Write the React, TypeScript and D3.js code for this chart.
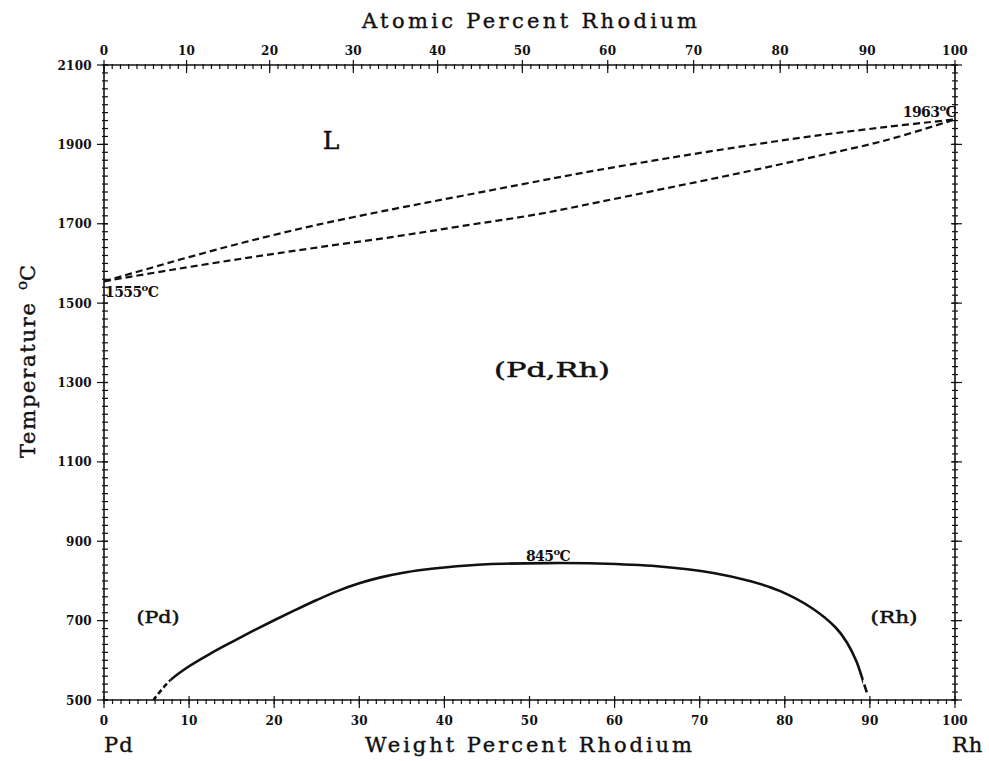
import React from "react";
import * as d3 from "d3";

// ---- data ----
const wtTicks = [0, 10, 20, 30, 40, 50, 60, 70, 80, 90, 100];
const atTicks = [0, 10, 20, 30, 40, 50, 60, 70, 80, 90, 100];
const tempTicks = [500, 700, 900, 1100, 1300, 1500, 1700, 1900, 2100];

// liquidus (upper dashed) and solidus (lower dashed)
const liquidusWt = [0, 5.4, 10, 16.8, 25, 34, 42, 51.2, 58, 66.2, 75, 83.3, 92, 100];
const liquidusT = [1555, 1588, 1616, 1655, 1697, 1737, 1770, 1808, 1835, 1865, 1895, 1921, 1944, 1963];
const solidusWt = [0, 8, 16.8, 25, 34, 42, 51.2, 58, 66.2, 75, 83.3, 92, 100];
const solidusT = [1555, 1584, 1614, 1640, 1667, 1694, 1725, 1754, 1790, 1829, 1868, 1911, 1963];

// miscibility gap (solvus); dashed below 7.8 wt% and above 89.2 wt%
const solvusWt = [5.8, 7.8, 10, 12.5, 15, 17.5, 20, 22.5, 25, 27.5, 30, 32.5, 35, 37.5, 40, 45, 52, 58, 65, 71.6, 76, 79.4, 83.3, 86, 87.3, 88.4, 89.2, 89.8];
const solvusT = [500, 550, 585, 617, 646, 674, 701, 727, 752, 775, 794, 809, 820, 828, 834, 842, 845, 844, 837, 820, 799, 775, 730, 682, 645, 598, 548, 508];
const solvusSolidRange = [7.8, 89.2];

const M_RH = 102.906;
const M_PD = 106.42;
const wtFromAt = (a: number) => (100 * a * M_RH) / (a * M_RH + (100 - a) * M_PD);

const FONT = "'DejaVu Serif', serif";

export default function App() {
  const x = d3.scaleLinear().domain([0, 100]).range([104, 955]);
  const y = d3.scaleLinear().domain([500, 2100]).range([700, 65]);
  const [x0, x1] = x.range();
  const [yb, yt] = y.range();

  const mkLine = (wt: number[], t: number[]) =>
    d3
      .line<number>()
      .x((i) => x(wt[i]))
      .y((i) => y(t[i]))
      .curve(d3.curveCatmullRom.alpha(0.5))(d3.range(wt.length)) as string;

  const minorWt = d3.range(0, 101, 1);
  const minorAt = d3.range(0, 101, 1);
  const minorT = d3.range(500, 2101, 20);

  const solvusPath = mkLine(solvusWt, solvusT);
  const sA = x(solvusSolidRange[0]);
  const sB = x(solvusSolidRange[1]);

  return (
    <svg
      width={989}
      height={761}
      style={{ position: "absolute", left: 0, top: 0, background: "#fff" }}
      fontFamily={FONT}
    >
      <defs>
        <clipPath id="clipL">
          <rect x={0} y={0} width={sA} height={761} />
        </clipPath>
        <clipPath id="clipM">
          <rect x={sA} y={0} width={sB - sA} height={761} />
        </clipPath>
        <clipPath id="clipR">
          <rect x={sB} y={0} width={989 - sB} height={761} />
        </clipPath>
      </defs>
      <rect x={0} y={0} width={989} height={761} fill="#fff" />
      {/* frame */}
      <g stroke="#111" strokeWidth={1.6} fill="none">
        <line x1={x0} x2={x1} y1={yt} y2={yt} />
        <line x1={x0} x2={x1} y1={yb} y2={yb} />
        <line x1={x0} x2={x0} y1={yt} y2={yb} />
        <line x1={x1} x2={x1} y1={yt} y2={yb} />
      </g>
      <g stroke="#111" strokeWidth={1.2}>
        {/* bottom ticks (weight %) */}
        {minorWt.map((v) => (
          <line key={"bw" + v} x1={x(v)} x2={x(v)} y1={yb - 1} y2={yb + 4} />
        ))}
        {wtTicks.map((v) => (
          <line key={"bW" + v} x1={x(v)} x2={x(v)} y1={yb - 4} y2={yb + 8} />
        ))}
        {/* top ticks (atomic %) */}
        {minorAt.map((v) => (
          <line key={"ta" + v} x1={x(wtFromAt(v))} x2={x(wtFromAt(v))} y1={yt - 1} y2={yt + 4} />
        ))}
        {atTicks.map((v) => (
          <line key={"tA" + v} x1={x(wtFromAt(v))} x2={x(wtFromAt(v))} y1={yt - 5} y2={yt + 8} />
        ))}
        {/* left & right ticks (temperature) */}
        {minorT.map((v) => (
          <line key={"lt" + v} x1={x0 - 2} x2={x0 + 4} y1={y(v)} y2={y(v)} />
        ))}
        {tempTicks.map((v) => (
          <line key={"lT" + v} x1={x0 - 7} x2={x0 + 4} y1={y(v)} y2={y(v)} />
        ))}
        {minorT.map((v) => (
          <line key={"rt" + v} x1={x1 - 3} x2={x1 + 3} y1={y(v)} y2={y(v)} />
        ))}
        {tempTicks.map((v) => (
          <line key={"rT" + v} x1={x1 - 4} x2={x1 + 7} y1={y(v)} y2={y(v)} />
        ))}
      </g>

      {/* tick labels */}
      <g fontSize={12} fill="#111" fontWeight="bold" letterSpacing={0.3}>
        {wtTicks.map((v) => (
          <text key={"bl" + v} x={x(v)} y={725} textAnchor="middle">
            {v}
          </text>
        ))}
        {atTicks.map((v) => (
          <text key={"tl" + v} x={x(wtFromAt(v))} y={55} textAnchor="middle">
            {v}
          </text>
        ))}
        {tempTicks.map((v) => (
          <text key={"ll" + v} x={92} y={y(v) + 4.5} textAnchor="end">
            {v}
          </text>
        ))}
      </g>

      {/* axis titles */}
      <g fill="#111" fontSize={21} stroke="#111" strokeWidth={0.4}>
        <text x={362} y={28} textLength={335} lengthAdjust="spacing">
          Atomic Percent Rhodium
        </text>
        <text x={365} y={752} textLength={327} lengthAdjust="spacing">
          Weight Percent Rhodium
        </text>
        <text x={104} y={752} letterSpacing={1}>
          Pd
        </text>
        <text x={952} y={752} letterSpacing={1}>
          Rh
        </text>
        <text
          transform="translate(35,458) rotate(-90)"
          x={0}
          y={0}
          textLength={155}
          lengthAdjust="spacing"
        >
          Temperature
        </text>
        <text transform="translate(35,290) rotate(-90)" x={0} y={0}>
          <tspan fontSize={15} dy={-8}>o</tspan>
          <tspan dy={8}>C</tspan>
        </text>
      </g>

      {/* liquidus & solidus */}
      <g fill="none" stroke="#111" strokeWidth={2.2} strokeDasharray="7,4">
        <path d={mkLine(liquidusWt, liquidusT)} />
        <path d={mkLine(solidusWt, solidusT)} />
      </g>

      {/* solvus */}
      <g fill="none" stroke="#111" strokeWidth={2.6}>
        <path d={solvusPath} clipPath="url(#clipL)" strokeDasharray="5,3" />
        <path d={solvusPath} clipPath="url(#clipM)" />
        <path d={solvusPath} clipPath="url(#clipR)" strokeDasharray="0,3,8,2" />
      </g>

      {/* region labels */}
      <g fill="#111" stroke="#111" strokeWidth={0.5}>
        <text x={331} y={149} fontSize={25} textAnchor="middle">
          L
        </text>
        <text x={552} y={377} fontSize={20} textAnchor="middle" textLength={116} lengthAdjust="spacingAndGlyphs">
          (Pd,Rh)
        </text>
        <text x={158} y={623} fontSize={16} textAnchor="middle" textLength={43} lengthAdjust="spacingAndGlyphs">
          (Pd)
        </text>
        <text x={894} y={623} fontSize={16} textAnchor="middle" textLength={47} lengthAdjust="spacingAndGlyphs">
          (Rh)
        </text>
      </g>

      {/* temperature annotations */}
      <g fill="#111" fontSize={14} fontWeight="bold">
        <text x={105} y={297} letterSpacing={-0.6}>
          1555<tspan fontSize={10} dy={-6}>o</tspan>
          <tspan dy={6}>C</tspan>
        </text>
        <text x={956} y={117} textAnchor="end" letterSpacing={-0.6}>
          1963<tspan fontSize={10} dy={-6}>o</tspan>
          <tspan dy={6}>C</tspan>
        </text>
        <text x={548} y={561} textAnchor="middle" letterSpacing={-0.6}>
          845<tspan fontSize={10} dy={-6}>o</tspan>
          <tspan dy={6}>C</tspan>
        </text>
      </g>
    </svg>
  );
}
